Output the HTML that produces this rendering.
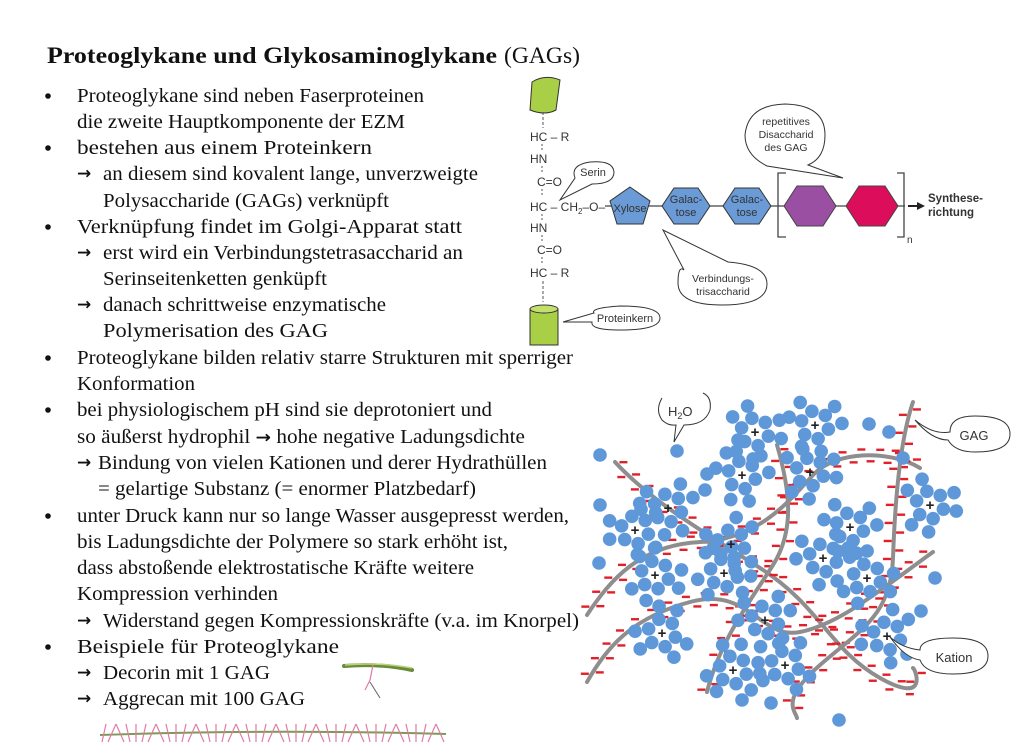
<!DOCTYPE html>
<html><head><meta charset="utf-8"><style>
html,body{margin:0;padding:0;background:#fff;}
svg{display:block;}
.t{font-family:"Liberation Serif",serif;font-size:19.5px;fill:#111;}
.s{font-family:"Liberation Sans",sans-serif;fill:#333;}
.ar{font-family:"DejaVu Sans",sans-serif;font-weight:bold;font-size:17px;}
</style></head><body>
<svg id="page" width="1024" height="753" viewBox="0 0 1024 753" xmlns="http://www.w3.org/2000/svg">
<g>
<text x="47" y="63" style="font-family:'Liberation Serif',serif;font-size:23px;font-weight:bold;fill:#111" textLength="450" lengthAdjust="spacingAndGlyphs">Proteoglykane und Glykosaminoglykane</text>
<text x="504" y="63" style="font-family:'Liberation Serif',serif;font-size:23px;fill:#111" textLength="76" lengthAdjust="spacingAndGlyphs">(GAGs)</text>
</g>
<g id="textblock"></g>

<g>
<path d="M532,82 Q545,74 560,80 L556,110 Q545,116 530,110 Z" fill="#a8cf45" stroke="#333" stroke-width="1"/>
<line x1="543" y1="112" x2="543" y2="128" stroke="#555" stroke-dasharray="3,2"/>
<g class="s" style="font-size:12px">
<text x="530" y="141">HC – R</text><line x1="542" y1="144" x2="542" y2="150" stroke="#555" stroke-dasharray="2,2"/>
<text x="530" y="163">HN</text><line x1="542" y1="166" x2="542" y2="173" stroke="#555" stroke-dasharray="2,2"/>
<text x="537" y="186">C=O</text><line x1="542" y1="189" x2="542" y2="196" stroke="#555" stroke-dasharray="2,2"/>
<text x="530" y="211">HC – CH<tspan font-size="8" dy="3">2</tspan><tspan dy="-3">–O–</tspan></text><line x1="542" y1="214" x2="542" y2="220" stroke="#555" stroke-dasharray="2,2"/>
<text x="530" y="232">HN</text><line x1="542" y1="235" x2="542" y2="242" stroke="#555" stroke-dasharray="2,2"/>
<text x="537" y="254">C=O</text><line x1="542" y1="257" x2="542" y2="264" stroke="#555" stroke-dasharray="2,2"/>
<text x="530" y="277">HC – R</text>
</g>
<line x1="543" y1="281" x2="543" y2="302" stroke="#555" stroke-dasharray="3,2"/>
<path d="M530,309 L530,345 L558,345 L558,309 Z" fill="#a8cf45" stroke="#333" stroke-width="1"/>
<ellipse cx="544" cy="309" rx="14" ry="4" fill="#c3e06e" stroke="#333" stroke-width="1"/>
<line x1="605" y1="206" x2="905" y2="206" stroke="#444" stroke-width="1.2"/>
<polygon points="630,187 650,201 643,224 617,224 610,201" fill="#6a9bd7" stroke="#333"/>
<text x="630" y="212" class="s" font-size="11" text-anchor="middle">Xylose</text>
<polygon points="662,206 674,188 698,188 710,206 698,224 674,224" fill="#6a9bd7" stroke="#333"/>
<text x="686" y="203" class="s" font-size="11" text-anchor="middle" fill="#222">Galac-</text><text x="686" y="216" class="s" font-size="11" text-anchor="middle">tose</text>
<polygon points="723,206 735,188 759,188 771,206 759,224 735,224" fill="#6a9bd7" stroke="#333"/>
<text x="747" y="203" class="s" font-size="11" text-anchor="middle">Galac-</text><text x="747" y="216" class="s" font-size="11" text-anchor="middle">tose</text>
<polygon points="784,206 797,186 823,186 836,206 823,226 797,226" fill="#9b4fa3" stroke="#444"/>
<polygon points="846,206 859,186 885,186 898,206 885,226 859,226" fill="#dc0e5c" stroke="#444"/>
<path d="M786,173 L778,173 L778,237 L786,237 M897,173 L904,173 L904,237 L897,237" fill="none" stroke="#444" stroke-width="1.3"/>
<text x="907" y="243" class="s" font-size="10">n</text>
<line x1="908" y1="206" x2="918" y2="206" stroke="#222" stroke-width="2"/><polygon points="917,202 925,206 917,210" fill="#222"/>
<text x="928" y="202" class="s" font-size="11.5" font-weight="bold" fill="#222">Synthese-</text>
<text x="928" y="216" class="s" font-size="11.5" font-weight="bold" fill="#222">richtung</text>
<path d="M575,178 Q570,165 590,162 Q613,160 614,172 Q614,184 592,184 L560,200 Z" fill="#fff" stroke="#333"/>
<text x="593" y="176" class="s" font-size="11" text-anchor="middle">Serin</text>
<path d="M767,166 Q745,155 745,135 Q748,105 785,104 Q825,105 825,135 Q825,158 808,165 L843,178 Z" fill="#fff" stroke="#333"/>
<g class="s" font-size="10.5" text-anchor="middle"><text x="786" y="125">repetitives</text><text x="786" y="138">Disaccharid</text><text x="786" y="151">des GAG</text></g>
<path d="M684,270 Q678,265 678,283 Q678,305 722,305 Q767,305 767,284 Q767,265 728,262 L663,230 Z" fill="#fff" stroke="#333"/>
<g class="s" font-size="10.5" text-anchor="middle"><text x="723" y="282">Verbindungs-</text><text x="723" y="295">trisaccharid</text></g>
<path d="M594,313 Q590,308 620,306 Q660,306 660,318 Q660,330 620,330 Q590,330 592,322 L563,322 Z" fill="#fff" stroke="#333"/>
<text x="625" y="322" class="s" font-size="11" text-anchor="middle">Proteinkern</text>
</g>

<g id="gel">
<g id="strands"></g><g id="dots"></g>
<path d="M662,398 Q655,410 662,420 Q668,426 676,425 L674,442 L684,425 Q705,425 710,410 Q712,397 703,393" fill="none" stroke="#333"/>
<text x="668" y="416" class="s" font-size="13">H<tspan font-size="9" dy="3">2</tspan><tspan dy="-3">O</tspan></text>
<path d="M950,432 Q933,435 915,420 Q932,440 948,440 Q955,452 975,452 Q1010,452 1010,434 Q1010,416 975,416 Q950,416 950,432 Z" fill="#fff" stroke="#333"/>
<text x="974" y="440" class="s" font-size="13" text-anchor="middle">GAG</text>
<path d="M920,650 Q902,648 890,637 Q905,658 920,660 Q925,674 953,674 Q988,674 988,656 Q988,638 953,638 Q920,638 920,650 Z" fill="#fff" stroke="#333"/>
<text x="954" y="662" class="s" font-size="13" text-anchor="middle">Kation</text>
</g>

<g>
<path d="M344,666 Q380,663 412,670" stroke="#6b8a3a" stroke-width="4" fill="none" stroke-linecap="round"/>
<path d="M345,665 Q380,662 412,668" stroke="#b7d47a" stroke-width="1.5" fill="none"/>
<path d="M373,665 L370,680 L365,690" stroke="#e07aa8" stroke-width="1.2" fill="none"/>
<path d="M370,682 L380,698" stroke="#666" stroke-width="1" fill="none"/>
</g>
<g id="aggrecan">
<path d="M100,735 Q270,729 446,734" stroke="#7a9a55" stroke-width="2" fill="none"/>
</g>
</svg>
<script>
var NS='http://www.w3.org/2000/svg';
var lines=[
[1,77,102,424,'','Proteoglykane sind neben Faserproteinen'],
[0,77,128,405,'','die zweite Hauptkomponente der EZM'],
[1,77,154,372,'','bestehen aus einem Proteinkern'],
[0,77,180,478,'\u2192 ','an diesem sind kovalent lange, unverzweigte'],
[0,103,207,389,'','Polysaccharide (GAGs) verkn\u00fcpft'],
[1,77,233,462,'','Verkn\u00fcpfung findet im Golgi-Apparat statt'],
[0,77,259,463,'\u2192 ','erst wird ein Verbindungstetrasaccharid an'],
[0,103,285,327,'','Serinseitenketten genk\u00fcpft'],
[0,77,311,386,'\u2192 ','danach schrittweise enzymatische'],
[0,103,337,328,'','Polymerisation des GAG'],
[1,77,364,573,'','Proteoglykane bilden relativ starre Strukturen mit sperriger'],
[0,77,390,195,'','Konformation'],
[1,77,416,492,'','bei physiologischem pH sind sie deprotoniert und'],
[0,77,443,525,'','so \u00e4u\u00dferst hydrophil \u2192 hohe negative Ladungsdichte'],
[0,77,469,547,'\u2192','Bindung von vielen Kationen und derer Hydrath\u00fcllen'],
[0,98,495,476,'','= gelartige Substanz (= enormer Platzbedarf)'],
[1,77,522,569,'','unter Druck kann nur so lange Wasser ausgepresst werden,'],
[0,77,548,508,'','bis Ladungsdichte der Polymere so stark erh\u00f6ht ist,'],
[0,77,574,474,'','dass absto\u00dfende elektrostatische Kr\u00e4fte weitere'],
[0,77,600,278,'','Kompression verhinden'],
[0,77,627,579,'\u2192 ','Widerstand gegen Kompressionskr\u00e4fte (v.a. im Knorpel)'],
[1,77,653,339,'','Beispiele f\u00fcr Proteoglykane'],
[0,77,679,270,'\u2192 ','Decorin mit 1 GAG'],
[0,77,705,305,'\u2192 ','Aggrecan mit 100 GAG']];
var tb=document.getElementById('textblock');
lines.forEach(function(l){
  if(l[0]){var c=document.createElementNS(NS,'circle');c.setAttribute('cx',48);c.setAttribute('cy',l[2]-6);c.setAttribute('r',2.8);c.setAttribute('fill','#111');
    
    
    tb.appendChild(c);}
  var x=l[1];
  if(l[4]){
    var a=document.createElementNS(NS,'text');a.setAttribute('class','t ar');a.setAttribute('x',x);a.setAttribute('y',l[2]-1);a.textContent='\u2192';
    
    
    tb.appendChild(a);
    x+= (l[4].length>1?26:21);
  }
  var txt=l[5];
  var t=document.createElementNS(NS,'text');t.setAttribute('class','t');t.setAttribute('x',x);t.setAttribute('y',l[2]);
  t.setAttribute('textLength',l[3]-x);t.setAttribute('lengthAdjust','spacingAndGlyphs');
  if(txt.indexOf('\u2192')>=0){
    var parts=txt.split('\u2192');
    t.appendChild(document.createTextNode(parts[0]));
    var ts=document.createElementNS(NS,'tspan');ts.setAttribute('class','ar');ts.textContent='\u2192';t.appendChild(ts);
    var ts2=document.createElementNS(NS,'tspan');ts2.textContent=parts[1];t.appendChild(ts2);
  } else t.textContent=txt;
  
  
  tb.appendChild(t);
});
var strandPaths=[
'M615,462 C650,500 700,530 760,568 S830,650 880,678 S915,668 913,668',
'M587,615 C610,580 640,545 700,542 S790,500 813,475 S890,450 920,468',
'M777,445 C790,490 795,530 773,565 S720,640 707,692',
'M913,402 C900,440 895,500 893,558 S860,630 820,665 S795,710 797,718',
'M587,682 C605,650 630,618 690,602 S760,640 800,632 S880,590 933,552'];
var sg=document.getElementById('strands');
var dg=document.getElementById('dots');
strandPaths.forEach(function(d,i){
  var p=document.createElementNS(NS,'path');p.setAttribute('d',d);p.setAttribute('fill','none');p.setAttribute('stroke','#8e8e8e');p.setAttribute('stroke-width','4');p.setAttribute('stroke-linecap','round');
  
  
  sg.appendChild(p);
  var L=p.getTotalLength();
  for(var s=6;s<L;s+=9){
    var a=p.getPointAtLength(s),b=p.getPointAtLength(Math.min(L,s+1));
    var dx=b.x-a.x,dy=b.y-a.y,n=Math.hypot(dx,dy)||1;var nx=-dy/n,ny=dx/n;var side=((s/9|0)%2)?1:-1;
    var cx=a.x+nx*6*side,cy=a.y+ny*6*side;
    var r=document.createElementNS(NS,'rect');r.setAttribute('x',cx-4);r.setAttribute('y',cy-1.2);r.setAttribute('width',8);r.setAttribute('height',2.4);r.setAttribute('fill','#e0202a');
    
    
    sg.appendChild(r);
  }
});
var clusters=[[635,530],[668,508],[742,475],[810,472],[655,575],[724,573],[662,633],[731,544],[823,558],[850,527],[930,505],[867,578],[733,670],[785,665],[887,636],[765,620],[815,425],[755,432]];
var loose=[[600,505],[599,563],[600,455],[935,578],[921,611],[903,458],[869,424],[889,432],[839,720],[742,700],[771,703],[677,451],[738,440],[707,474],[705,490]];
function dot(x,y){var c=document.createElementNS(NS,'circle');c.setAttribute('cx',x);c.setAttribute('cy',y);c.setAttribute('r',6.8);c.setAttribute('fill','#5f98d8');
  
  
  dg.appendChild(c);}
clusters.forEach(function(c,i){
  for(var k=0;k<6;k++){var an=k*Math.PI/3+0.3;dot(c[0]+Math.cos(an)*14,c[1]+Math.sin(an)*14);}
  for(var k=0;k<9;k++){if((k+i)%3===0)continue;var an=k*2*Math.PI/9+i;dot(c[0]+Math.cos(an)*27,c[1]+Math.sin(an)*27);}
  var t=document.createElementNS(NS,'text');t.setAttribute('x',c[0]);t.setAttribute('y',c[1]+5);t.setAttribute('text-anchor','middle');t.setAttribute('font-size','15');t.setAttribute('font-weight','bold');t.setAttribute('font-family','Liberation Sans, sans-serif');t.setAttribute('fill','#222');t.textContent='+';
  
  
  dg.appendChild(t);
});
loose.forEach(function(p){dot(p[0],p[1]);});
var ag=document.getElementById('aggrecan');
for(var x=104;x<445;x+=8){
  var y=733, tilt=((x*7)%5)-2;
  var l=document.createElementNS(NS,'line');l.setAttribute('x1',x+tilt*2);l.setAttribute('y1',y-9);l.setAttribute('x2',x-tilt*2);l.setAttribute('y2',y+9);l.setAttribute('stroke','#e07aa8');l.setAttribute('stroke-width','1.2');
  
  
  ag.appendChild(l);
}
</script>
</body></html>
